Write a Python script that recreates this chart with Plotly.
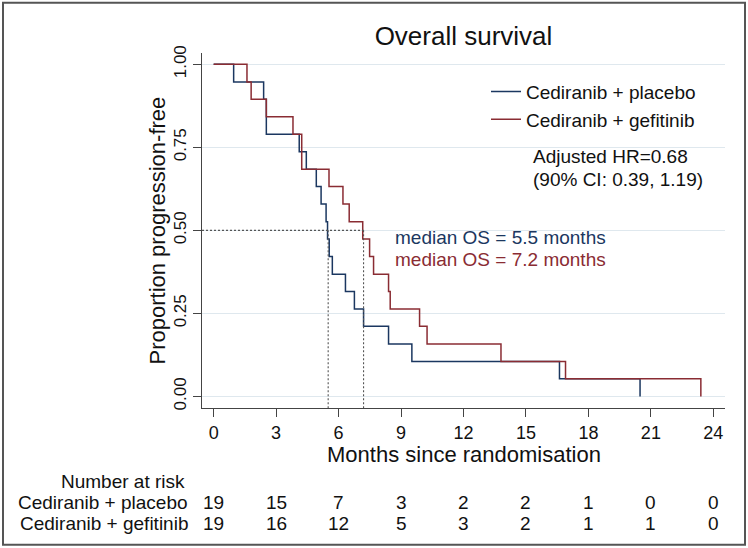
import plotly.graph_objects as go

# ---- data ----
placebo_months = [0, 0.96, 2.40, 2.53, 4.11, 4.45, 4.93, 5.16, 5.40, 5.47, 5.55, 5.70,
                  6.33, 6.76, 7.20, 8.40, 9.52, 16.61, 20.48]
placebo_surv = [1.000, 0.947, 0.895, 0.789, 0.737, 0.684, 0.632, 0.579, 0.526, 0.474,
                0.421, 0.368, 0.316, 0.263, 0.211, 0.158, 0.105, 0.053, 0.000]

gefitinib_months = [0, 1.60, 1.80, 2.53, 3.81, 4.23, 5.54, 6.21, 6.51, 7.16, 7.49, 7.68,
                    8.40, 8.48, 9.89, 10.25, 13.80, 16.90, 23.40]
gefitinib_surv = [1.000, 0.947, 0.895, 0.842, 0.789, 0.684, 0.632, 0.579, 0.526, 0.474,
                  0.421, 0.368, 0.316, 0.263, 0.211, 0.158, 0.105, 0.053, 0.000]

median_os = [5.5, 7.2]
series_names = ["Cediranib + placebo", "Cediranib + gefitinib"]
risk_times = [0, 3, 6, 9, 12, 15, 18, 21, 24]
risk_placebo = [19, 15, 7, 3, 2, 2, 1, 0, 0]
risk_gefitinib = [19, 16, 12, 5, 3, 2, 1, 1, 0]
x_ticks = [0, 3, 6, 9, 12, 15, 18, 21, 24]
y_ticks = [0, 0.25, 0.5, 0.75, 1.0]
y_ticklabels = ["0.00", "0.25", "0.50", "0.75", "1.00"]

NAVY = "#1b3760"
MAROON = "#8a2c33"
FONT = "Liberation Sans, Arial, sans-serif"
XR = [-0.56, 24.56]
YR = [-0.035, 1.034]

fig = go.Figure()

fig.add_trace(go.Scatter(x=placebo_months, y=placebo_surv, mode="lines",
                         line=dict(color=NAVY, width=1.5, shape="hv"),
                         name=series_names[0]))
fig.add_trace(go.Scatter(x=gefitinib_months, y=gefitinib_surv, mode="lines",
                         line=dict(color=MAROON, width=1.5, shape="hv"),
                         name=series_names[1]))

# median reference lines
fig.add_trace(go.Scatter(
    x=[XR[0], max(median_os), None, median_os[0], median_os[0], None, median_os[1], median_os[1]],
    y=[0.5, 0.5, None, 0.5, YR[0], None, 0.5, YR[0]],
    mode="lines", line=dict(color="#555555", width=1.1, dash="2px,2px"),
    showlegend=False, hoverinfo="skip"))

ann = []
ann.append(dict(x=8.6, y=0.477, xref="x", yref="y", text="median OS = 5.5 months",
                showarrow=False, xanchor="left", yanchor="middle",
                font=dict(size=19, color=NAVY, family=FONT)))
ann.append(dict(x=8.6, y=0.411, xref="x", yref="y", text="median OS = 7.2 months",
                showarrow=False, xanchor="left", yanchor="middle",
                font=dict(size=19, color=MAROON, family=FONT)))
ann.append(dict(x=(531 - 202) / 523, y=(408.3 - 157) / 355, xref="paper", yref="paper",
                text="Adjusted HR=0.68", showarrow=False, xanchor="left", yanchor="middle",
                font=dict(size=19, color="#111111", family=FONT)))
ann.append(dict(x=(531 - 202) / 523, y=(408.3 - 180) / 355, xref="paper", yref="paper",
                text="(90% CI: 0.39, 1.19)", showarrow=False, xanchor="left", yanchor="middle",
                font=dict(size=19, color="#111111", family=FONT)))

# axis titles
ann.append(dict(x=0.5, y=(408.3 - 455) / 355, xref="paper", yref="paper",
                text="Months since randomisation", showarrow=False,
                xanchor="center", yanchor="middle",
                font=dict(size=22, color="#111111", family=FONT)))
ann.append(dict(x=(157 - 202) / 523, y=0.5, xref="paper", yref="paper",
                text="Proportion progression-free", showarrow=False, textangle=-90,
                xanchor="center", yanchor="middle",
                font=dict(size=22, color="#111111", family=FONT)))

# number at risk table
row_y = [(408.3 - 482) / 355, (408.3 - 503) / 355, (408.3 - 524) / 355]
label_x = (190 - 202) / 523
ann.append(dict(x=(187 - 202) / 523, y=row_y[0], xref="paper", yref="paper",
                text="Number at risk", showarrow=False, xanchor="right", yanchor="middle",
                font=dict(size=19, color="#111111", family=FONT)))
for name, counts, ry in [(series_names[0], risk_placebo, row_y[1]),
                         (series_names[1], risk_gefitinib, row_y[2])]:
    ann.append(dict(x=label_x, y=ry, xref="paper", yref="paper", text=name,
                    showarrow=False, xanchor="right", yanchor="middle",
                    font=dict(size=19, color="#111111", family=FONT)))
    for t, c in zip(risk_times, counts):
        ann.append(dict(x=t, y=ry, xref="x", yref="paper", text=str(c),
                        showarrow=False, xanchor="center", yanchor="middle",
                        font=dict(size=19, color="#111111", family=FONT)))

# outer frame
shapes = [dict(type="rect", xref="paper", yref="paper",
               x0=(3 - 202) / 523, x1=(745 - 202) / 523,
               y0=(408.3 - 545) / 355, y1=(408.3 - 3) / 355,
               line=dict(color="#555555", width=2), fillcolor="rgba(0,0,0,0)",
               layer="below")]

fig.update_layout(
    width=748, height=548,
    margin=dict(l=202, r=23, t=53, b=140),
    paper_bgcolor="white", plot_bgcolor="white",
    font=dict(family=FONT, color="#111111"),
    title=dict(text="Overall survival", x=0.5, xref="paper", xanchor="center",
               y=(548 - 36) / 548, yref="container", yanchor="middle",
               font=dict(size=26, color="#111111", family=FONT)),
    showlegend=True,
    legend=dict(x=(486 - 202) / 523, y=(408.3 - 73) / 355, xanchor="left", yanchor="top",
                bgcolor="rgba(0,0,0,0)", font=dict(size=19, color="#111111", family=FONT),
                itemwidth=30, tracegroupgap=4),
    annotations=ann,
    shapes=shapes,
    xaxis=dict(range=XR, tickvals=x_ticks, ticktext=[str(v) for v in x_ticks],
               showgrid=False, zeroline=False, showline=True, linecolor="#444444",
               linewidth=1, ticks="outside", ticklen=8, tickcolor="#444444",
               tickfont=dict(size=18, color="#111111", family=FONT)),
    yaxis=dict(range=YR, tickvals=y_ticks, ticktext=y_ticklabels, tickangle=-90,
               showgrid=True, gridcolor="#dfe8ee", gridwidth=1, zeroline=False,
               showline=True, linecolor="#444444", linewidth=1, ticks="outside",
               ticklen=8, tickcolor="#444444",
               tickfont=dict(size=17, color="#111111", family=FONT)),
)

fig.write_html("out.html", config={"displayModeBar": False},
               post_script="document.body.style.margin='0';")
